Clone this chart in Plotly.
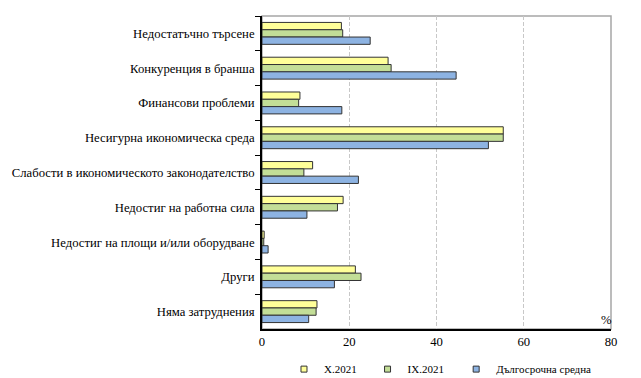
import plotly.graph_objects as go

categories = [
    "Недостатъчно търсене",
    "Конкуренция в бранша",
    "Финансови проблеми",
    "Несигурна икономическа среда",
    "Слабости в икономическото законодателство",
    "Недостиг на работна сила",
    "Недостиг на площи и/или оборудване",
    "Други",
    "Няма затруднения",
]
x_2021 = [18.2, 28.9, 8.7, 55.3, 11.6, 18.6, 0.5, 21.4, 12.6]
ix_2021 = [18.5, 29.6, 8.4, 55.3, 9.6, 17.3, 0.4, 22.7, 12.4]
long_term = [24.8, 44.5, 18.3, 51.9, 22.1, 10.3, 1.4, 16.6, 10.7]
series_names = ["X.2021", "IX.2021", "Дългосрочна средна"]
colors = ["#FFFF99", "#C3DE97", "#8DB3E2"]
x_ticks = [0, 20, 40, 60, 80]

FONT = "Liberation Serif, Times New Roman, serif"
legend_ids = ["legend", "legend2", "legend3"]
legend_x = [0.436, 0.568, 0.708]

fig = go.Figure()
for name, vals, col in zip(series_names, [x_2021, ix_2021, long_term], colors):
    fig.add_trace(go.Bar(
        y=categories, x=vals, orientation="h", name=name,
        marker=dict(color=col, line=dict(color="#333333", width=1)),
        showlegend=False,
    ))
# legend entries (small square markers), one legend per entry
for name, col, lid in zip(series_names, colors, legend_ids):
    fig.add_trace(go.Scatter(
        x=[None], y=[None], mode="markers", name=name, legend=lid,
        marker=dict(symbol="square", size=6, color=col,
                    line=dict(color="#333333", width=1)),
    ))

legend_common = dict(orientation="h", xref="container", yref="container",
                     xanchor="left", y=0.024, yanchor="middle",
                     font=dict(size=11, family=FONT), itemwidth=30,
                     bgcolor="rgba(0,0,0,0)")

# the page body adds an 8px offset, so the figure is 8px smaller
fig.update_layout(
    width=633, height=370,
    margin=dict(l=254, r=30, t=8, b=49, autoexpand=False),
    paper_bgcolor="white", plot_bgcolor="white",
    barmode="group", bargap=0.37, bargroupgap=0,
    font=dict(family=FONT, size=12.7, color="black"),
    legend=dict(x=legend_x[0], **legend_common),
    legend2=dict(x=legend_x[1], **legend_common),
    legend3=dict(x=legend_x[2], **legend_common),
    shapes=[dict(type="rect", xref="paper", yref="paper", x0=0, x1=1, y0=0, y1=1,
                 line=dict(color="#A6A6A6", width=1.5), layer="below")],
    annotations=[dict(text="%", xref="paper", yref="paper", x=1.0, y=0.0,
                      xanchor="center", yanchor="bottom", yshift=0, xshift=-5,
                      showarrow=False, font=dict(size=12.7, family=FONT))],
)
fig.update_xaxes(
    range=[0, 80], tickvals=x_ticks, ticktext=[str(t) for t in x_ticks],
    showgrid=True, gridcolor="#C8C8C8", griddash="4px,2px", gridwidth=1,
    showline=True, linecolor="black", linewidth=1.5, zeroline=False,
    ticks="", tickfont=dict(size=12.7, family=FONT), automargin=False,
)
fig.update_yaxes(
    autorange="reversed", type="category", automargin=False,
    showline=True, linecolor="black", linewidth=1.5,
    ticks="outside", tickson="boundaries", ticklen=5, tickcolor="black",
    showgrid=False, tickfont=dict(size=12.7, family=FONT), ticksuffix=" ",
)

fig.write_html("out.html")
